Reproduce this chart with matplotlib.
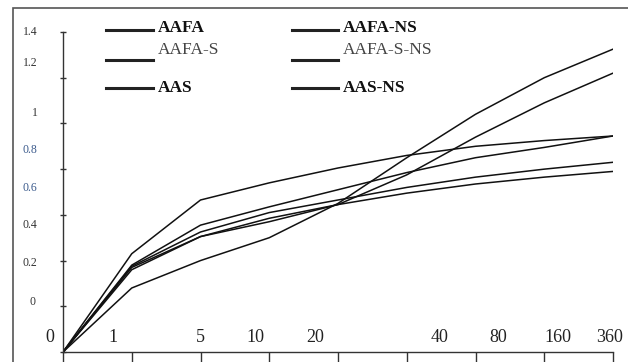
import matplotlib
matplotlib.use("Agg")
import matplotlib.pyplot as plt
from matplotlib.lines import Line2D
from matplotlib.patches import Rectangle

plt.rcParams['font.family'] = ['Liberation Serif', 'DejaVu Serif']

# ages (days) shown as evenly spaced categories
ages = ['0', '1', '5', '10', '20', '40', '80', '160', '360']

# series values
aafa = [0, 0.43, 0.665, 0.74, 0.805, 0.86, 0.90, 0.925, 0.945]
aafa_ns = [0, 0.28, 0.40, 0.50, 0.65, 0.85, 1.04, 1.20, 1.325]
aafa_s = [0, 0.37, 0.505, 0.57, 0.645, 0.775, 0.94, 1.09, 1.22]
aafa_s_ns = [0, 0.38, 0.555, 0.635, 0.71, 0.785, 0.85, 0.895, 0.945]
aas = [0, 0.375, 0.525, 0.61, 0.665, 0.72, 0.765, 0.80, 0.83]
aas_ns = [0, 0.36, 0.505, 0.585, 0.645, 0.695, 0.735, 0.765, 0.79]

names = ['AAFA', 'AAFA-NS', 'AAFA-S', 'AAFA-S-NS', 'AAS', 'AAS-NS']
series = [aafa, aafa_ns, aafa_s, aafa_s_ns, aas, aas_ns]

ytick_vals = [0, 0.2, 0.4, 0.6, 0.8, 1.0, 1.2, 1.4]
ytick_labels = ['0', '0.2', '0.4', '0.6', '0.8', '1', '1.2', '1.4']

W, H = 628, 362
fig = plt.figure(figsize=(W / 100, H / 100), dpi=100, facecolor='white')
ax = fig.add_axes([63 / W, 1 - 352 / H, 550 / W, 320 / H])
x = list(range(len(ages)))

for s in series:
    ax.plot(x, s, color='#111111', lw=1.1, solid_capstyle='round')

ax.set_xlim(0, len(ages) - 1)
ax.set_ylim(0, 1.4)
for side in ['top', 'right']:
    ax.spines[side].set_visible(False)
for side in ['left', 'bottom']:
    ax.spines[side].set_color('#333333')
    ax.spines[side].set_linewidth(1.0)
ax.set_xticks(x)
ax.set_xticklabels([])
ax.set_yticks(ytick_vals)
ax.set_yticklabels([])
ax.tick_params(axis='x', direction='out', length=7, width=1, color='#333333')
ax.tick_params(axis='y', direction='inout', length=5, width=1, color='#333333')
ax.patch.set_alpha(0)

# tick labels sit shifted from their ticks in the original picture
ylab_pos = [(33, 302), (30, 263), (30, 225), (30, 188), (30, 150), (35, 113), (30, 63), (30, 32)]
ylab_col = ['#333333', '#333333', '#333333', '#3b5a8c', '#3b5a8c', '#333333', '#333333', '#333333']
for lab, (px, py), c in zip(ytick_labels, ylab_pos, ylab_col):
    fig.text(px / W, 1 - py / H, lab, fontsize=8.5, color=c, ha='center', va='center')

xlab_px = [50, 113, 200, 255, 315, 440, 498, 558, 610]
for lab, px in zip(ages, xlab_px):
    fig.text(px / W, 1 - 337 / H, lab, fontsize=13, color='#222222', ha='center', va='center')

# legend drawn by hand in two columns
leg = [(106, 153, 30, 158, 28), (292, 338, 30, 343, 28),
       (106, 153, 60, 158, 50), (292, 338, 60, 343, 50),
       (106, 153, 88, 158, 88), (292, 338, 88, 343, 88)]
weights = ['bold', 'bold', 'normal', 'normal', 'bold', 'bold']
tcols = ['#111111', '#111111', '#444444', '#444444', '#111111', '#111111']
for name, (x0, x1, ly, tx, ty), wgt, tc in zip(names, leg, weights, tcols):
    fig.add_artist(Line2D([x0 / W, x1 / W], [1 - ly / H, 1 - ly / H], color='#222222', lw=2.2))
    fig.text(tx / W, 1 - ty / H, name, fontsize=12.5, color=tc, ha='left', va='center', fontweight=wgt)

# outer frame of the chart area
fig.add_artist(Rectangle((13 / W, -0.1), 1.2, 1 - 8 / H + 0.1, transform=fig.transFigure,
                         fill=False, edgecolor='#555555', lw=1.2))

fig.savefig('out.png', dpi=100, facecolor='white')
